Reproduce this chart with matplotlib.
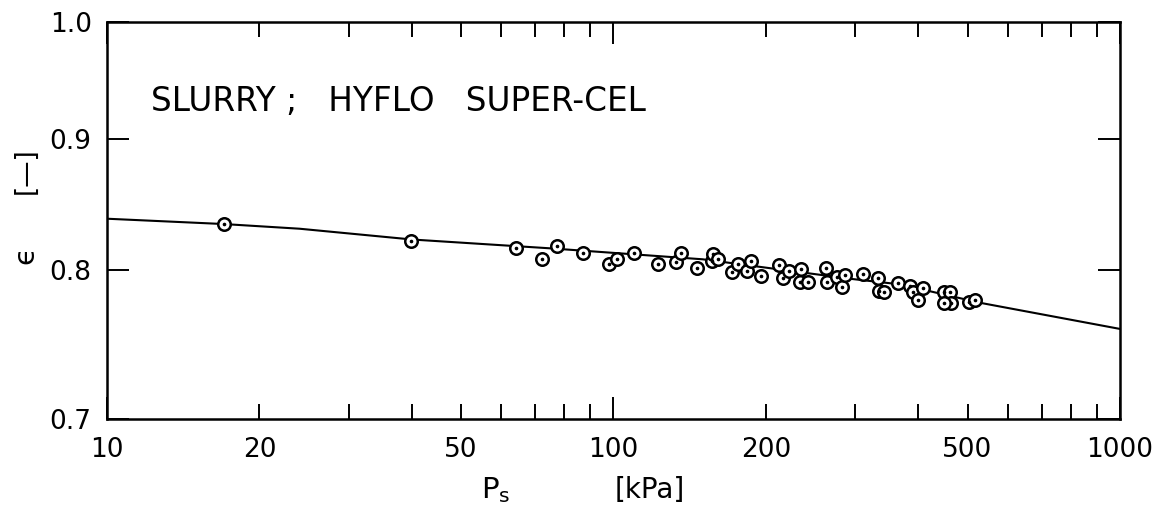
"""Porosity vs. solid compressive pressure, Hyflo Super-Cel slurry.
"""

import numpy as np
import matplotlib
matplotlib.use("Agg")
import matplotlib.pyplot as plt

# fitted curve
curve_ps = [10, 17, 24, 40, 75, 150, 293, 368, 530, 1000]
curve_eps = [0.838, 0.834, 0.8305, 0.8225, 0.816, 0.808, 0.794, 0.790, 0.777, 0.759]

# measured points
ps = [17.0, 39.8, 64.2, 72.2, 77.3, 87.0, 98.0, 101.5, 109.9, 122.4,
      132.7, 135.7, 146.0, 156.3, 157.0, 160.8, 171.1, 175.9, 183.2, 186.8,
      195.3, 212.2, 215.8, 222.1, 234.2, 233.4, 241.8, 263.2, 264.3, 276.6,
      282.2, 286.5, 310.5, 333.3, 334.8, 342.0, 365.0, 384.9, 390.7, 399.2,
      408.9, 448.7, 461.8, 463.3, 450.0, 503.4, 517.3]
eps = [0.834, 0.8215, 0.8163, 0.8083, 0.8178, 0.8129, 0.8045, 0.8081, 0.8125, 0.8045,
       0.8059, 0.8125, 0.8016, 0.8070, 0.8120, 0.8083, 0.7987, 0.8045, 0.7998, 0.8068,
       0.7960, 0.8039, 0.7943, 0.7996, 0.8008, 0.7919, 0.7919, 0.8016, 0.7915, 0.7951,
       0.7879, 0.7967, 0.7972, 0.7943, 0.7855, 0.7848, 0.7908, 0.7888, 0.7848, 0.7790,
       0.7876, 0.7848, 0.7843, 0.7771, 0.7771, 0.7778, 0.7790]

x_major = [10, 100, 1000]
x_minor = [20, 30, 40, 50, 60, 70, 80, 90, 200, 300, 400, 500, 600, 700, 800, 900]
x_minor_labels = ["20", "", "", "50", "", "", "", "", "200", "", "", "500", "", "", "", ""]
y_ticks = [0.7, 0.8, 0.9, 1.0]

fig = plt.figure(figsize=(11.68, 5.08), dpi=100)
ax = fig.add_axes([0.0916, 0.1752, 0.8673, 0.7815])

ax.plot(curve_ps, curve_eps, color="black", lw=1.5, zorder=2)
ax.plot(ps, eps, ls="none", marker="o", ms=9, mfc="white", mec="black",
        mew=1.8, zorder=3)
ax.plot(ps, eps, ls="none", marker="o", ms=1.6, color="black", zorder=4)

ax.set_xscale("log")
ax.set_yscale("log")
ax.set_xlim(10, 1000)
ax.set_ylim(0.7, 1.0)

ax.set_xticks(x_major, labels=["10", "100", "1000"])
ax.set_xticks(x_minor, labels=x_minor_labels, minor=True)
ax.set_yticks(y_ticks, labels=["0.7", "0.8", "0.9", "1.0"])
ax.yaxis.set_minor_locator(matplotlib.ticker.NullLocator())

ax.tick_params(which="both", direction="in", top=True, right=True,
               labelsize=19, width=1.4)
ax.tick_params(axis="x", which="both", pad=13)
ax.tick_params(axis="y", which="both", pad=11)
ax.tick_params(which="major", length=16)
ax.tick_params(which="minor", length=11)
for s in ax.spines.values():
    s.set_linewidth(1.8)

ax.text(0.043, 0.80, "SLURRY ;   HYFLO   SUPER-CEL", transform=ax.transAxes,
        fontsize=23.5, ha="left", va="center")

fig.text(0.424, 0.036, r"P$_{\rm s}$", fontsize=21, ha="center", va="center")
fig.text(0.556, 0.036, "[kPa]", fontsize=20, ha="center", va="center")
fig.text(0.022, 0.498, "ϵ", fontsize=21, rotation=90, ha="center", va="center")
fig.text(0.022, 0.665, "[—]", fontsize=19, rotation=90, ha="center", va="center")

fig.savefig("out.png", dpi=100)
